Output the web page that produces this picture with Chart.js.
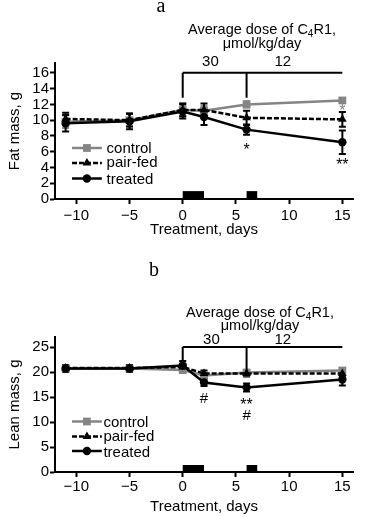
<!DOCTYPE html>
<html><head><meta charset="utf-8">
<script src="https://cdn.jsdelivr.net/npm/chart.js@4.4.0/dist/chart.umd.min.js"></script>
<style>
html,body{margin:0;padding:0;background:#fff;width:366px;height:517px;overflow:hidden}
canvas{position:absolute;left:0;display:block}
#c1{top:0}
#c2{top:258px}
</style></head><body>
<canvas id="c1" width="366" height="258"></canvas>
<canvas id="c2" width="366" height="259"></canvas>
<script>
// ---------- data ----------
const days = [-11, -5, 0, 2, 6, 15];
const xTicks = [-10, -5, 0, 5, 10, 15];
const seriesNames = ['control', 'pair-fed', 'treated'];

const fatControl    = [9.8, 10.0, 11.3, 11.2, 12.0, 12.5];
const fatControlErr = [0.8, 0.8, 0.8, 0.6, 0.4, 0.3];
const fatPairFed    = [10.15, 10.0, 11.3, 11.3, 10.3, 10.1];
const fatPairFedErr = [0.8, 0.8, 0.8, 0.8, 0.9, 0.95];
const fatTreated    = [9.6, 9.85, 11.1, 10.4, 8.8, 7.2];
const fatTreatedErr = [1.05, 1.0, 0.9, 1.0, 0.65, 1.5];
const fatTicks = [0, 2, 4, 6, 8, 10, 12, 14, 16];

const leanControl    = [20.7, 20.7, 20.4, 19.3, 19.9, 20.3];
const leanControlErr = [0.5, 0.5, 0.6, 0.5, 0.5, 0.5];
const leanPairFed    = [20.8, 20.8, 21.0, 19.7, 19.7, 19.7];
const leanPairFedErr = [0.6, 0.6, 0.6, 0.6, 0.6, 0.6];
const leanTreated    = [20.7, 20.7, 21.3, 17.9, 16.9, 18.5];
const leanTreatedErr = [0.7, 0.7, 0.9, 0.7, 0.8, 1.2];
const leanTicks = [0, 5, 10, 15, 20, 25];

const doseBlockDays = [[0, 2], [6, 7]];
const doseBracketDays = [0, 6, 15];
const doseLabels = ['30', '12'];
const doseTitleParts = ['Average dose of C', '4', 'R1,'];
const doseUnits = '\u03bcmol/kg/day';

// ---------- styling ----------
const FONT = '"Liberation Sans", Arial, Helvetica, sans-serif';
const SERIF = '"Liberation Serif", "Times New Roman", serif';
const GRAY = '#858585';

function series(values) { return days.map((d, i) => ({x: d, y: values[i]})); }

function buildDatasets(c, ce, p, pe, t, te) {
  return [
    {label: seriesNames[0], data: series(c), err: ce, borderColor: GRAY, backgroundColor: GRAY,
     pointStyle: 'rect', pointRadius: 5.5, pointBorderWidth: 0, borderWidth: 2.5, order: 3},
    {label: seriesNames[1], data: series(p), err: pe, borderColor: '#000', backgroundColor: '#000',
     pointStyle: 'triangle', pointRadius: 5, pointBorderWidth: 0, borderWidth: 2.5, borderDash: [5, 2], order: 2},
    {label: seriesNames[2], data: series(t), err: te, borderColor: '#000', backgroundColor: '#000',
     pointStyle: 'circle', pointRadius: 4.2, pointBorderWidth: 0, borderWidth: 2.5, order: 1}
  ];
}

function centeredText(ctx, text, cx, cy, font, color, align) {
  ctx.font = font; ctx.fillStyle = color; ctx.textAlign = align || 'center'; ctx.textBaseline = 'alphabetic';
  const m = ctx.measureText(text);
  ctx.fillText(text, cx, cy + (m.actualBoundingBoxAscent - m.actualBoundingBoxDescent) / 2);
}

const annotate = {
  id: 'annotate',
  beforeDatasetsDraw(chart) {
    const {ctx, scales: {x, y}} = chart;
    chart.data.datasets.forEach(ds => {
      ctx.save();
      ctx.strokeStyle = ds.borderColor; ctx.lineWidth = 2;
      ds.data.forEach((p, i) => {
        const e = ds.err[i];
        const px = x.getPixelForValue(p.x);
        const y1 = y.getPixelForValue(p.y + e), y2 = y.getPixelForValue(p.y - e);
        ctx.beginPath();
        ctx.moveTo(px, y1); ctx.lineTo(px, y2);
        ctx.moveTo(px - 3.5, y1); ctx.lineTo(px + 3.5, y1);
        ctx.moveTo(px - 3.5, y2); ctx.lineTo(px + 3.5, y2);
        ctx.stroke();
      });
      ctx.restore();
    });
  },
  afterDatasetsDraw(chart, args, o) {
    const {ctx, scales: {x, y}} = chart;
    ctx.save();
    // dose blocks
    ctx.fillStyle = '#000';
    doseBlockDays.forEach(([a, b]) => {
      const xa = x.getPixelForValue(a), xb = x.getPixelForValue(b);
      const yt = y.getPixelForValue(o.blockHeight), yb = y.getPixelForValue(0);
      ctx.fillRect(xa, yt, xb - xa, yb - yt);
    });
    // bracket
    ctx.strokeStyle = '#000'; ctx.lineWidth = 2;
    const by = y.getPixelForValue(o.bracketTop);
    ctx.beginPath();
    ctx.moveTo(x.getPixelForValue(doseBracketDays[0]), by);
    ctx.lineTo(x.getPixelForValue(doseBracketDays[2]), by);
    [0, 1].forEach(i => {
      const bx = x.getPixelForValue(doseBracketDays[i]);
      ctx.moveTo(bx, by); ctx.lineTo(bx, y.getPixelForValue(o.bracketBottoms[i]));
    });
    ctx.stroke();
    // dose numbers
    doseLabels.forEach((t, i) => centeredText(ctx, t, x.getPixelForValue(o.doseLabelDays[i]), y.getPixelForValue(o.doseLabelValue), '15px ' + FONT, '#000'));
    // dose title with subscript
    const cx = x.getPixelForValue(o.titleDay);
    const ty = y.getPixelForValue(o.titleValues[0]);
    const big = '14.5px ' + FONT, small = '10px ' + FONT;
    ctx.textAlign = 'left'; ctx.textBaseline = 'alphabetic'; ctx.fillStyle = '#000';
    ctx.font = big; const w0 = ctx.measureText(doseTitleParts[0]).width, w2 = ctx.measureText(doseTitleParts[2]).width;
    ctx.font = small; const w1 = ctx.measureText(doseTitleParts[1]).width;
    let sx = cx - (w0 + w1 + w2) / 2;
    const base = ty + 5.2;
    ctx.font = big; ctx.fillText(doseTitleParts[0], sx, base); sx += w0;
    ctx.font = small; ctx.fillText(doseTitleParts[1], sx, base + 3); sx += w1;
    ctx.font = big; ctx.fillText(doseTitleParts[2], sx, base);
    centeredText(ctx, doseUnits, cx, y.getPixelForValue(o.titleValues[1]), '14.5px ' + FONT, '#000');
    // panel letter
    centeredText(ctx, o.letter.text, x.getPixelForValue(o.letter.day), y.getPixelForValue(o.letter.value), '20px ' + SERIF, '#000');
    // significance marks
    o.marks.forEach(m => centeredText(ctx, m.text, x.getPixelForValue(m.day), y.getPixelForValue(m.value), m.size + 'px ' + FONT, m.color));
    // legend
    const lg = o.legend;
    chart.data.datasets.forEach((ds, i) => {
      const yy = y.getPixelForValue(lg.rows[i]);
      const xa = x.getPixelForValue(lg.x0), xb = x.getPixelForValue(lg.x1);
      ctx.save();
      ctx.strokeStyle = ds.borderColor; ctx.lineWidth = 2.5; ctx.setLineDash(ds.borderDash || []);
      ctx.beginPath(); ctx.moveTo(xa, yy); ctx.lineTo(xb, yy); ctx.stroke();
      ctx.setLineDash([]);
      ctx.fillStyle = ds.backgroundColor;
      Chart.helpers.drawPoint(ctx, {pointStyle: ds.pointStyle, radius: ds.pointRadius, borderWidth: 0, rotation: 0}, (xa + xb) / 2, yy);
      ctx.restore();
      centeredText(ctx, ds.label, x.getPixelForValue(lg.textDay), yy, '15px ' + FONT, '#000', 'left');
    });
    ctx.restore();
  }
};

function makeChart(id, datasets, yCfg, layoutCfg, annot) {
  return new Chart(document.getElementById(id), {
    type: 'line',
    data: {datasets},
    plugins: [annotate],
    options: {
      responsive: false, animation: false, devicePixelRatio: 1,
      layout: {padding: layoutCfg.padding},
      plugins: {legend: {display: false}, tooltip: {enabled: false}, annotate: annot},
      scales: {
        x: {
          type: 'linear', min: -12, max: 16,
          afterBuildTicks: s => { s.ticks = xTicks.map(v => ({value: v})); },
          afterFit: s => { s.height = layoutCfg.xHeight; },
          grid: {display: true, drawOnChartArea: false, drawTicks: true, tickLength: 5, tickWidth: 2, tickColor: '#000'},
          border: {display: true, width: 2, color: '#000'},
          ticks: {color: '#000', font: {family: FONT, size: 15}, padding: layoutCfg.xTickPad, maxRotation: 0, autoSkip: false,
                  callback: v => String(v).replace('-', '\u2212')},
          title: {display: true, text: 'Treatment, days', color: '#000', font: {family: FONT, size: 15}, padding: {top: 0, bottom: 0}}
        },
        y: {
          type: 'linear', min: 0, max: yCfg.max,
          afterBuildTicks: s => { s.ticks = yCfg.ticks.map(v => ({value: v})); },
          afterFit: s => { s.width = 55; },
          grid: {display: true, drawOnChartArea: false, drawTicks: true, tickLength: 5, tickWidth: 2, tickColor: '#000'},
          border: {display: true, width: 2, color: '#000'},
          ticks: {color: '#000', font: {family: FONT, size: 15}, padding: 1, autoSkip: false},
          title: {display: true, text: yCfg.title, color: '#000', font: {family: FONT, size: 15}, padding: {top: 6, bottom: 0}}
        }
      }
    }
  });
}

makeChart('c1',
  buildDatasets(fatControl, fatControlErr, fatPairFed, fatPairFedErr, fatTreated, fatTreatedErr),
  {max: 17.25, ticks: fatTicks, title: 'Fat mass, g'},
  {padding: {top: 63, right: 13, bottom: 19, left: 0}, xHeight: 40, xTickPad: 3},
  {
    blockHeight: 1.0, bracketTop: 16, bracketBottoms: [12.85, 12.85],
    doseLabelDays: [2.6, 9.4], doseLabelValue: 17.5,
    titleDay: 7.45, titleValues: [21.6, 19.7],
    letter: {text: 'a', day: -2.05, value: 24.4},
    marks: [
      {text: '*', day: 6, value: 6.7, size: 16, color: '#000'},
      {text: '**', day: 15, value: 4.8, size: 16, color: '#000'},
      {text: '*', day: 15, value: 11.7, size: 16, color: GRAY}
    ],
    legend: {x0: -10.4, x1: -7.6, textDay: -7.15, rows: [6.47, 4.57, 2.6]}
  });

makeChart('c2',
  buildDatasets(leanControl, leanControlErr, leanPairFed, leanPairFedErr, leanTreated, leanTreatedErr),
  {max: 27, ticks: leanTicks, title: 'Lean mass, g'},
  {padding: {top: 79, right: 13, bottom: 1, left: 0}, xHeight: 44, xTickPad: 1},
  {
    blockHeight: 1.4, bracketTop: 25, bracketBottoms: [21.7, 19.9],
    doseLabelDays: [2.7, 9.4], doseLabelValue: 26.6,
    titleDay: 7.26, titleValues: [32.0, 29.3],
    letter: {text: 'b', day: -2.7, value: 40.7},
    marks: [
      {text: '#', day: 2, value: 14.9, size: 15, color: '#000'},
      {text: '**', day: 6, value: 14.2, size: 16, color: '#000'},
      {text: '#', day: 6, value: 11.5, size: 15, color: '#000'}
    ],
    legend: {x0: -10.4, x1: -7.6, textDay: -7.45, rows: [10.1, 7.1, 4.2]}
  });
</script>
</body></html>
